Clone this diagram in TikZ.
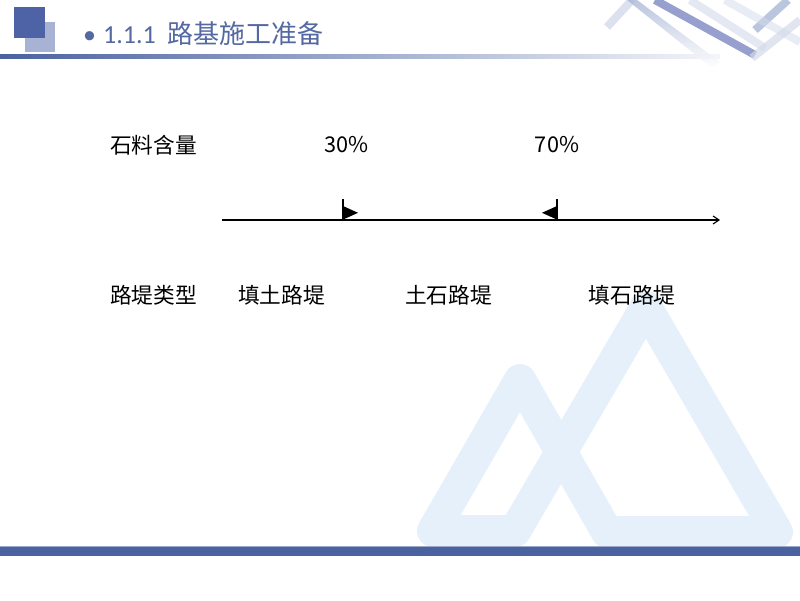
\documentclass[tikz,border=0pt]{standalone}
\usepackage{fontspec}
\setmainfont{Noto Sans CJK SC}
\newfontfamily\numfont{Carlito}
\usetikzlibrary{arrows.meta}
\definecolor{wm}{HTML}{E5F0FB}
\definecolor{hdark}{HTML}{4D63A6}
\definecolor{hlight}{HTML}{A7B2D5}
\definecolor{titleblue}{HTML}{5468A2}
\definecolor{barblue}{HTML}{4A62A0}
\definecolor{stripA}{HTML}{7380BE}
\definecolor{stripB}{HTML}{A9B7D6}
\definecolor{stripC}{HTML}{D3DAEA}
\begin{document}
\begin{tikzpicture}[x=1pt,y=-1pt,
  lbl/.style={font=\fontsize{21.7}{24}\selectfont, inner sep=0pt, anchor=center, text=black},
  ttl/.style={font=\fontsize{26}{30}\selectfont, inner sep=0pt, anchor=base west, text=titleblue},
  strip/.style={line width=8pt, line cap=butt}]
\useasboundingbox (0,0) rectangle (800,600);
\fill[white] (0,0) rectangle (800,600);
% watermark: two interlaced triangles
\draw[wm, line width=32pt, line join=round]
  (520,380) -- (433,531) -- (515,531) -- (646,307) -- (777,532) -- (607,532) -- cycle;
% bottom bar
\fill[barblue] (0,546) rectangle (800,556);
\draw[barblue!55, line width=1pt] (0,546.5) -- (800,546.5);
% header decorations
\shade[left color=barblue, right color=barblue!6] (0,54.5) rectangle (720,58);
\fill[hlight] (25,22) rectangle (55,52);
\fill[hdark] (14,7) rectangle (45,38);
% top-right chevrons
\begin{scope}
\clip (560,0) rectangle (800,80);
\draw[strip, stripC, opacity=0.8] (607,27) -- (632,0);
\shade[left color=stripB, right color=white, opacity=0.8, shading angle=0]
  (627,0) -- (637,0) -- (720,62) -- (712,68) -- cycle;
\draw[strip, stripC, opacity=0.6] (690,0) -- (765,48);
\draw[strip, stripA, opacity=0.75] (655,0) -- (755,55);
\draw[strip, stripB, opacity=0.8] (788,0) -- (755,30);
\draw[strip, stripC, opacity=0.7] (752,58) -- (800,20);
\draw[strip, stripC, opacity=0.5] (725,0) -- (800,42);
\end{scope}
% title
\node[ttl, font=\fontsize{26}{30}\selectfont\numfont] (bullet) at (83,43.5) {•};
\node[ttl, font=\fontsize{26}{30}\selectfont\numfont] (num) at (103,43.5) {1.1.1};
\node[ttl] (title) at (167,43.5) {路基施工准备};
% labels
\node[lbl] (shiliao) at (153.5,145) {石料含量};
\node[lbl] (p30) at (346.5,145) {30\%};
\node[lbl] (p70) at (557,145) {70\%};
\node[lbl] (ludi) at (153.5,295) {路堤类型};
\node[lbl] (tiantu) at (281.5,295) {填土路堤};
\node[lbl] (tushi) at (448.5,295) {土石路堤};
\node[lbl] (tianshi) at (632,295) {填石路堤};
% axis
\coordinate (axL) at (222,220);
\coordinate (axR) at (720,220);
\draw[line width=1.1pt, -{Straight Barb[length=6pt,width=8pt]}] (axL) -- (axR);
% markers
\coordinate (m30top) at (343,199);
\coordinate (m30bot) at (343,220);
\coordinate (m70top) at (557,199);
\coordinate (m70bot) at (557,220);
\draw[line width=1.2pt] (m30top) -- (m30bot);
\fill[black] (343,206) -- (358,212.8) -- (343,219.6) -- cycle;
\draw[line width=1.2pt] (m70top) -- (m70bot);
\fill[black] (557,206) -- (542,212.8) -- (557,219.6) -- cycle;
\end{tikzpicture}
\end{document}
